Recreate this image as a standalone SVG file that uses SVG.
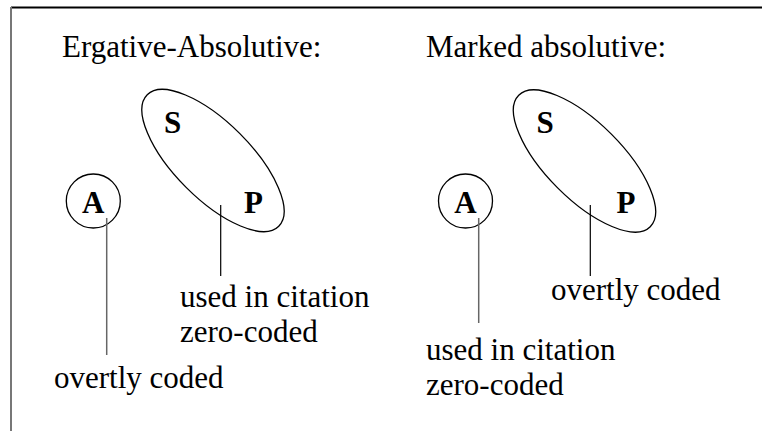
<svg xmlns="http://www.w3.org/2000/svg" width="762" height="431" viewBox="0 0 762 431">
<style>
text{font-family:"Liberation Serif","Times New Roman",serif;fill:#000}
.t{font-size:31px}
.b{font-size:31px;font-weight:bold;text-anchor:middle}
.shape{fill:none;stroke:#000;stroke-width:1.3}
.lead{stroke:#000;stroke-width:1.2}
.leadg{stroke:#666;stroke-width:1.5}
</style>
<rect width="762" height="431" fill="#fff"/>
<g id="frame">
<line x1="11" y1="7.5" x2="762" y2="7.5" stroke="#000" stroke-width="2"/>
<line x1="11" y1="7" x2="11" y2="431" stroke="#777" stroke-width="2"/>
</g>
<text id="title-left" class="t" x="62" y="57">Ergative-Absolutive:</text>
<text id="title-right" class="t" x="426" y="57">Marked absolutive:</text>
<g id="left-SP">
<ellipse class="shape" cx="213" cy="160.5" rx="93" ry="38" transform="rotate(45 213 160.5)"/>
<text class="b" x="172.5" y="133">S</text>
<text class="b" x="253.5" y="213">P</text>
</g>
<g id="left-A">
<circle class="shape" cx="93.3" cy="201" r="27"/>
<text class="b" x="93.3" y="213">A</text>
</g>
<g id="right-SP">
<ellipse class="shape" cx="584.5" cy="161" rx="93" ry="38" transform="rotate(45 584.5 161)"/>
<text class="b" x="545" y="133">S</text>
<text class="b" x="626" y="213">P</text>
</g>
<g id="right-A">
<circle class="shape" cx="465.5" cy="201" r="27"/>
<text class="b" x="465.5" y="213">A</text>
</g>
<g id="connectors">
<line class="leadg" x1="106.7" y1="218" x2="106.7" y2="355"/>
<line class="lead" x1="220.7" y1="205" x2="220.7" y2="276"/>
<line class="leadg" x1="478.7" y1="218" x2="478.7" y2="323"/>
<line class="lead" x1="590.3" y1="205" x2="590.3" y2="276"/>
</g>
<g id="labels">
<text class="t" x="180" y="307">used in citation</text>
<text class="t" x="180" y="342">zero-coded</text>
<text class="t" x="54" y="388">overtly coded</text>
<text class="t" x="551" y="300">overtly coded</text>
<text class="t" x="426" y="360">used in citation</text>
<text class="t" x="426" y="395">zero-coded</text>
</g>
</svg>
